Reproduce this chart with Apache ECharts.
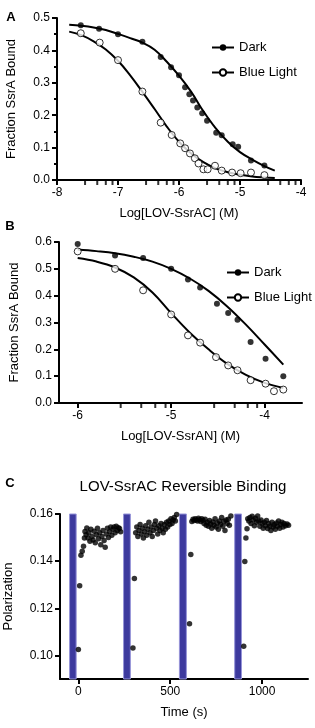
<!DOCTYPE html>
<html>
<head>
<meta charset="utf-8">
<script src="https://cdn.jsdelivr.net/npm/echarts@6/dist/echarts.min.js"></script>
<style>
html,body{margin:0;padding:0;background:#fff}
#main{width:315px;height:728px}
</style>
</head>
<body>
<div id="main"></div>
<script>
// panel A - LOV-SsrAC titration (x = log M)
const darkA = [[-7.61,0.478],[-7.31,0.467],[-7.0,0.45],[-6.6,0.427],[-6.3,0.38],[-6.13,0.348],[-6.0,0.323],[-5.9,0.286],[-5.83,0.265],[-5.77,0.245],[-5.70,0.224],[-5.62,0.206],[-5.54,0.183],[-5.39,0.146],[-5.30,0.138],[-5.12,0.11],[-5.03,0.103],[-4.82,0.06],[-4.6,0.045]];
const blueA = [[-7.61,0.453],[-7.3,0.424],[-7.0,0.37],[-6.6,0.273],[-6.3,0.177],[-6.12,0.139],[-5.98,0.113],[-5.9,0.098],[-5.82,0.082],[-5.74,0.067],[-5.68,0.051],[-5.6,0.033],[-5.53,0.033],[-5.41,0.044],[-5.30,0.029],[-5.13,0.023],[-4.99,0.021],[-4.82,0.023],[-4.6,0.015]];
const fitDarkA = [[-7.8,0.479],[-7.6,0.476],[-7.4,0.471],[-7.2,0.463],[-7.0,0.451],[-6.8,0.438],[-6.6,0.424],[-6.4,0.402],[-6.2,0.365],[-6.0,0.322],[-5.8,0.272],[-5.6,0.212],[-5.4,0.160],[-5.2,0.118],[-5.0,0.086],[-4.8,0.063],[-4.6,0.043],[-4.43,0.029]];
const fitBlueA = [[-7.8,0.458],[-7.6,0.447],[-7.4,0.428],[-7.2,0.403],[-7.0,0.368],[-6.8,0.323],[-6.6,0.272],[-6.4,0.219],[-6.2,0.165],[-6.0,0.118],[-5.8,0.082],[-5.6,0.055],[-5.4,0.036],[-5.2,0.024],[-5.0,0.016],[-4.8,0.011],[-4.6,0.008],[-4.43,0.006]];
const minorTicksA = [-7.54,-7.34,-7.2,-7.09,-6.54,-6.34,-6.2,-6.09,-5.54,-5.34,-5.2,-5.09,-4.54,-4.34,-4.2,-4.09];

// panel B - LOV-SsrAN titration
const darkB = [[-6.0,0.593],[-5.6,0.55],[-5.3,0.54],[-5.0,0.50],[-4.82,0.46],[-4.69,0.43],[-4.51,0.37],[-4.39,0.335],[-4.29,0.31],[-4.15,0.227],[-3.99,0.165],[-3.8,0.10]];
const blueB = [[-6.0,0.565],[-5.6,0.50],[-5.3,0.42],[-5.0,0.33],[-4.82,0.252],[-4.69,0.225],[-4.52,0.171],[-4.39,0.14],[-4.29,0.122],[-4.15,0.085],[-3.99,0.072],[-3.9,0.044],[-3.8,0.05]];
const fitDarkB = [[-6.0,0.572],[-5.8,0.566],[-5.6,0.558],[-5.4,0.545],[-5.2,0.527],[-5.0,0.500],[-4.8,0.464],[-4.6,0.418],[-4.4,0.360],[-4.2,0.292],[-4.0,0.218],[-3.8,0.143]];
const fitBlueB = [[-6.0,0.54],[-5.8,0.527],[-5.6,0.505],[-5.4,0.468],[-5.2,0.412],[-5.0,0.335],[-4.8,0.262],[-4.6,0.200],[-4.4,0.146],[-4.2,0.105],[-4.0,0.075],[-3.8,0.056]];
const majorTicksB = [-6,-5,-4];
const minorTicksB = [-5.54,-5.32,-5.17,-5.06,-4.54,-4.32,-4.18,-4.08];

// panel C - reversible binding, polarization vs time
const cycle1 = [[0,0.1025],[7,0.1296],[14,0.1425],[21,0.1442],[28,0.1463],[33,0.1498],[36,0.1526],[42,0.1512],[46,0.1541],[52,0.1498],[57,0.1520],[63,0.1484],[68,0.1535],[74,0.1505],[80,0.1490],[86,0.1527],[92,0.1478],[98,0.1512],[104,0.1540],[110,0.1495],[116,0.1520],[122,0.1470],[128,0.1505],[134,0.1530],[140,0.1488],[146,0.1459],[152,0.1515],[158,0.1540],[164,0.1500],[170,0.1525],[176,0.1545],[182,0.1510],[188,0.1535],[194,0.1545],[200,0.1520],[206,0.1548],[212,0.1530],[218,0.1542],[224,0.1538],[230,0.1525]];
const cycle2 = [[297,0.1032],[305,0.1326],[312,0.1520],[318,0.1545],[324,0.1505],[330,0.1530],[336,0.1555],[342,0.1515],[348,0.1540],[354,0.1498],[360,0.1525],[366,0.1550],[372,0.1510],[378,0.1535],[384,0.1565],[390,0.1520],[396,0.1545],[402,0.1505],[408,0.1530],[414,0.1555],[420,0.1570],[426,0.1540],[432,0.1515],[438,0.1550],[444,0.1530],[450,0.1560],[456,0.1540],[462,0.1520],[468,0.1555],[474,0.1535],[480,0.1565],[486,0.1545],[492,0.1570],[498,0.1555],[504,0.1580],[510,0.1560],[516,0.1575],[522,0.1585],[528,0.1570],[535,0.1598]];
const cycle3 = [[605,0.1134],[612,0.1428],[618,0.1568],[624,0.1578],[630,0.1572],[636,0.1580],[642,0.1575],[648,0.1570],[654,0.1582],[660,0.1576],[666,0.1568],[672,0.1580],[678,0.1574],[684,0.1560],[690,0.1578],[696,0.1552],[702,0.1565],[708,0.1548],[714,0.1572],[720,0.1558],[726,0.1540],[732,0.1566],[738,0.1552],[744,0.1580],[750,0.1545],[756,0.1562],[762,0.1535],[768,0.1570],[774,0.1555],[780,0.1585],[786,0.1548],[792,0.1568],[798,0.1530],[804,0.1575],[810,0.1560],[816,0.1578],[822,0.1552],[830,0.1592]];
const cycle4 = [[900,0.1039],[906,0.1399],[912,0.1498],[918,0.1537],[922,0.1580],[928,0.1570],[934,0.1585],[940,0.1560],[946,0.1590],[952,0.1575],[958,0.1550],[964,0.1582],[970,0.1565],[976,0.1592],[982,0.1570],[988,0.1548],[994,0.1575],[1000,0.1560],[1006,0.1540],[1012,0.1565],[1018,0.1550],[1024,0.1572],[1030,0.1538],[1036,0.1560],[1042,0.1548],[1048,0.1530],[1054,0.1565],[1060,0.1545],[1066,0.1555],[1072,0.1535],[1078,0.1562],[1084,0.1548],[1090,0.1570],[1096,0.1540],[1102,0.1555],[1108,0.1565],[1114,0.1545],[1120,0.1560],[1128,0.1550],[1136,0.1558],[1144,0.1552]];
const lightPulses = [[-48,-12],[246,283],[550,588],[851,888]];
const timeTicks = [0,500,1000];
const polTicks = [0.10,0.12,0.14,0.16];

const FONT = "'Liberation Sans', Arial, Helvetica, sans-serif";
const chart = echarts.init(document.getElementById('main'), null, {renderer: 'canvas'});

function mainAxis(extra) {
  return Object.assign({
    type: 'value',
    splitLine: {show: false},
    axisLine: {show: true, onZero: false, lineStyle: {color: '#000', width: 2}},
    axisTick: {show: true, length: 5, lineStyle: {color: '#000', width: 2}},
    axisLabel: {color: '#000', fontSize: 12, fontFamily: FONT, margin: 7},
    nameLocation: 'middle',
    nameTextStyle: {color: '#000', fontSize: 13, fontFamily: FONT}
  }, extra);
}
// short in-between ticks under the log axes, placed at y = 0 through the axis scales
function minorTicks(values, xi, yi) {
  return {
    type: 'scatter', xAxisIndex: xi, yAxisIndex: yi, silent: true, clip: false,
    data: values.map(v => [v, 0]),
    symbol: 'rect', symbolSize: [2, 4], symbolOffset: [0, 3],
    itemStyle: {color: '#000'}, z: 1
  };
}
function fitLine(name, data, xi, yi, open) {
  return {
    name: name, type: 'line', xAxisIndex: xi, yAxisIndex: yi, data: data,
    smooth: 0.4, symbol: 'circle', symbolSize: 7, showSymbol: false, silent: true,
    lineStyle: {color: '#000', width: 2},
    itemStyle: open ? {color: '#fff', borderColor: '#000', borderWidth: 1.2} : {color: '#000'},
    z: 2
  };
}
function dots(data, xi, yi, open) {
  return {
    type: 'scatter', xAxisIndex: xi, yAxisIndex: yi, data: data,
    symbol: 'circle', symbolSize: open ? 7 : 6,
    itemStyle: open ? {color: '#fff', borderColor: '#000', borderWidth: 1} : {color: '#000'},
    z: 3
  };
}

const option = {
  animation: false,
  backgroundColor: '#fff',
  textStyle: {fontFamily: FONT},
  grid: [
    {left: 57, right: 14, top: 18, bottom: 548, outerBoundsMode: 'none'},
    {left: 59, right: 13, top: 242, bottom: 325, outerBoundsMode: 'none'},
    {left: 60, right: 7, top: 514, bottom: 49, outerBoundsMode: 'none'}
  ],
  xAxis: [
    mainAxis({gridIndex: 0, min: -8, max: -4, interval: 1, name: 'Log[LOV-SsrAC] (M)', nameGap: 27}),
    mainAxis({gridIndex: 1, min: -6.2, max: -3.6, name: 'Log[LOV-SsrAN] (M)', nameGap: 27,
      axisTick: {show: true, length: 5, customValues: majorTicksB, lineStyle: {color: '#000', width: 2}},
      axisLabel: {color: '#000', fontSize: 12, fontFamily: FONT, margin: 7, customValues: majorTicksB}}),
    mainAxis({gridIndex: 2, min: -100, max: 1250, name: 'Time (s)', nameGap: 27,
      axisTick: {show: true, length: 5, customValues: timeTicks, lineStyle: {color: '#000', width: 2}},
      axisLabel: {color: '#000', fontSize: 12, fontFamily: FONT, margin: 7, customValues: timeTicks, formatter: v => String(v)}})
  ],
  yAxis: [
    mainAxis({gridIndex: 0, min: 0, max: 0.5, interval: 0.1, name: 'Fraction SsrA Bound', nameGap: 39,
      minorTick: {show: true, splitNumber: 2, length: 3, lineStyle: {color: '#000', width: 2}},
      axisLabel: {color: '#000', fontSize: 12, fontFamily: FONT, margin: 7, formatter: v => v.toFixed(1)}}),
    mainAxis({gridIndex: 1, min: 0, max: 0.6, interval: 0.1, name: 'Fraction SsrA Bound', nameGap: 38,
      axisLabel: {color: '#000', fontSize: 12, fontFamily: FONT, margin: 7, formatter: v => v.toFixed(1)}}),
    mainAxis({gridIndex: 2, min: 0.09, max: 0.16, name: 'Polarization', nameGap: 45,
      axisTick: {show: true, length: 5, customValues: polTicks, lineStyle: {color: '#000', width: 2}},
      axisLabel: {color: '#000', fontSize: 12, fontFamily: FONT, margin: 7, customValues: polTicks, formatter: v => v.toFixed(2)}})
  ],
  legend: [
    {orient: 'vertical', left: 206, top: 36, itemWidth: 22, itemHeight: 8, itemGap: 12,
      data: ['Dark', 'Blue Light'], textStyle: {color: '#000', fontSize: 13, fontFamily: FONT}},
    {orient: 'vertical', left: 221, top: 261, itemWidth: 22, itemHeight: 8, itemGap: 12,
      data: ['Dark', 'Blue Light'], textStyle: {color: '#000', fontSize: 13, fontFamily: FONT}}
  ],
  graphic: [
    {type: 'text', x: 11, y: 17, style: {text: 'A', font: 'bold 13px ' + FONT, fill: '#000', textAlign: 'center', textVerticalAlign: 'middle'}},
    {type: 'text', x: 10, y: 226, style: {text: 'B', font: 'bold 13px ' + FONT, fill: '#000', textAlign: 'center', textVerticalAlign: 'middle'}},
    {type: 'text', x: 10, y: 483, style: {text: 'C', font: 'bold 13px ' + FONT, fill: '#000', textAlign: 'center', textVerticalAlign: 'middle'}},
    {type: 'text', x: 183, y: 487, style: {text: 'LOV-SsrAC Reversible Binding', font: '15px ' + FONT, fill: '#000', textAlign: 'center', textVerticalAlign: 'middle'}}
  ],
  series: [
    minorTicks(minorTicksA, 0, 0),
    minorTicks(minorTicksB, 1, 1),
    fitLine('Dark', fitDarkA, 0, 0, false),
    fitLine('Blue Light', fitBlueA, 0, 0, true),
    dots(darkA, 0, 0, false),
    dots(blueA, 0, 0, true),
    fitLine('Dark', fitDarkB, 1, 1, false),
    fitLine('Blue Light', fitBlueB, 1, 1, true),
    dots(darkB, 1, 1, false),
    dots(blueB, 1, 1, true),
    {
      type: 'scatter', xAxisIndex: 2, yAxisIndex: 2,
      data: cycle1.concat(cycle2, cycle3, cycle4),
      symbol: 'circle', symbolSize: 5.5, itemStyle: {color: '#000'}, z: 3,
      markArea: {
        silent: true,
        itemStyle: {color: '#3d3a9e', borderColor: '#9694d8', borderWidth: 1},
        data: lightPulses.map(p => [{xAxis: p[0]}, {xAxis: p[1]}])
      }
    }
  ]
};
chart.setOption(option);
</script>
</body>
</html>
